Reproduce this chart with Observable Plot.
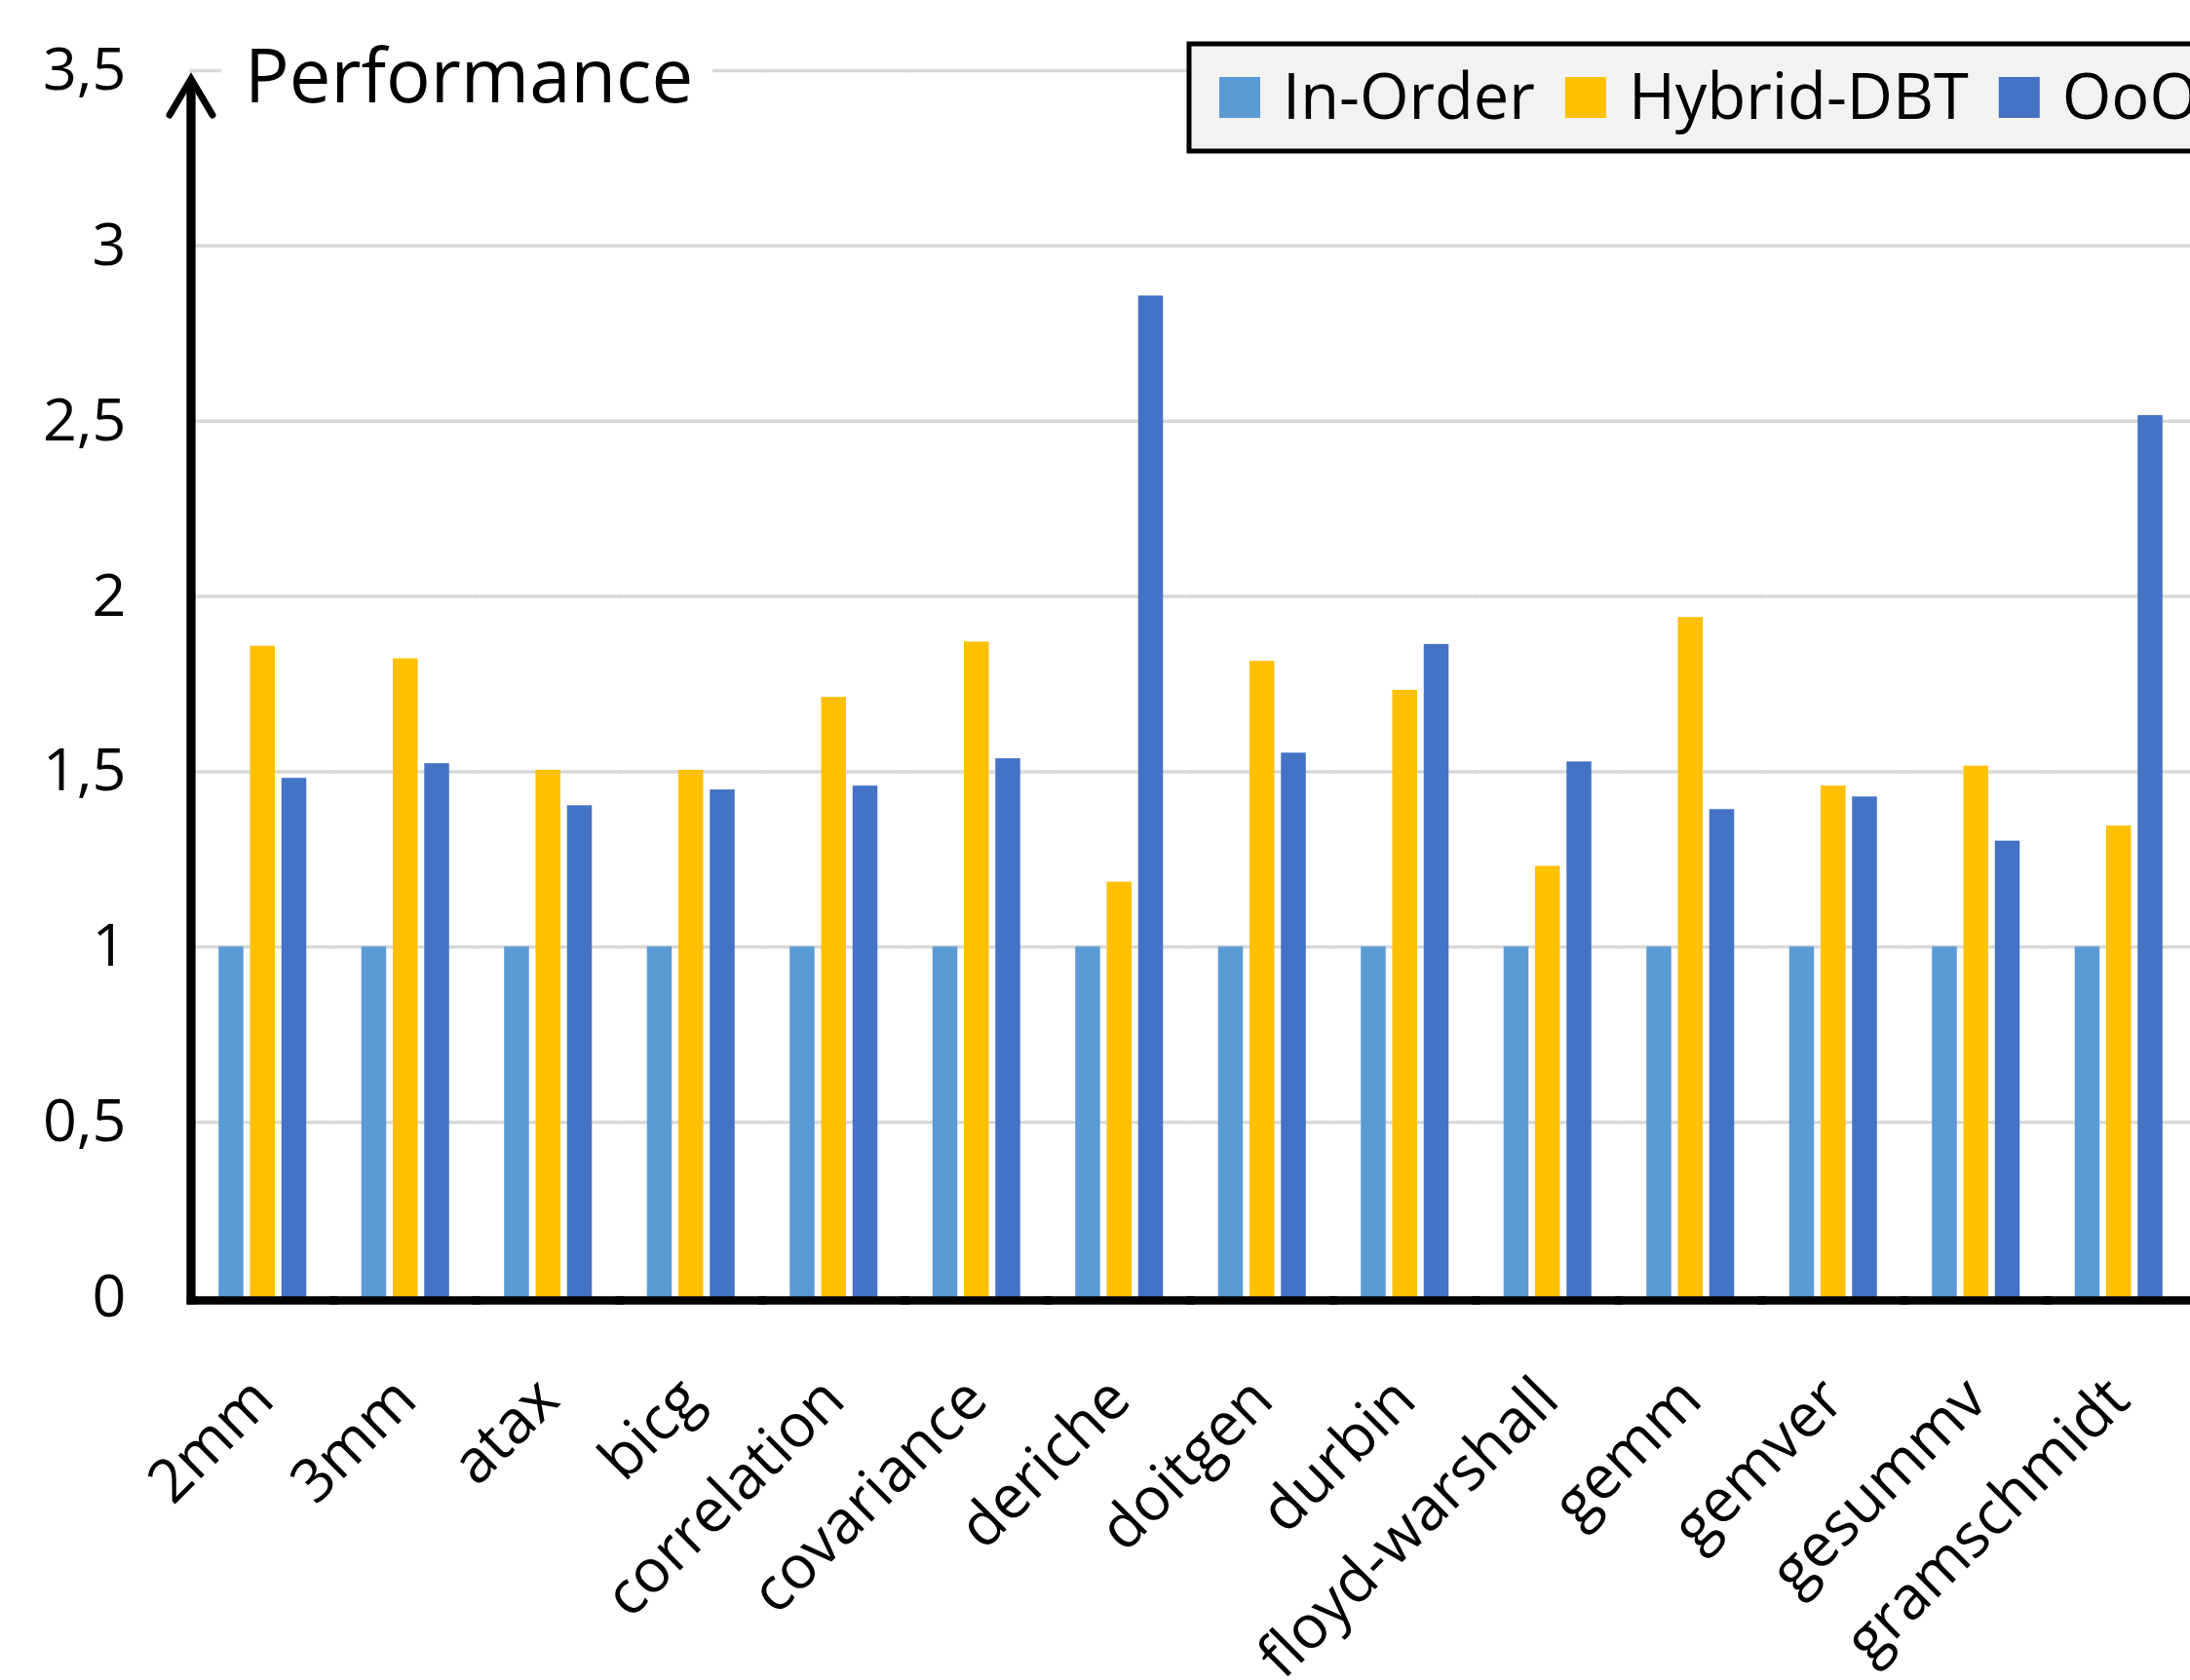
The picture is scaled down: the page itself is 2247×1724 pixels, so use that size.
<!DOCTYPE html>
<html><head><meta charset="utf-8">
<script src="https://cdn.jsdelivr.net/npm/d3@7"></script>
<script src="https://cdn.jsdelivr.net/npm/@observablehq/plot@0.6"></script>
<style>
html,body{margin:0;padding:0;background:#fff;overflow:hidden;}
#chart{position:relative;width:2247px;height:1724px;overflow:hidden;background:#fff;}
</style></head><body><div id="chart"></div>
<script>
// ---- data ----
const benchmarks = ["2mm","3mm","atax","bicg","correlation","covariance","deriche","doitgen","durbin","floyd-warshall","gemm","gemver","gesummv","gramschmidt"];
const seriesNames = ["In-Order","Hybrid-DBT","OoO"];
const inOrder   = [1,1,1,1,1,1,1,1,1,1,1,1,1,1];
const hybridDBT = [1.858,1.822,1.504,1.504,1.712,1.870,1.185,1.815,1.732,1.230,1.940,1.459,1.516,1.345];
const ooo       = [1.481,1.523,1.403,1.448,1.459,1.537,2.857,1.553,1.863,1.528,1.392,1.428,1.302,2.516];
const seriesColors = ["#5B9BD5","#FFC000","#4472C4"];
const yTicks = [0,0.5,1,1.5,2,2.5,3,3.5];
const yAxisTitle = "Performance";

const values = [inOrder, hybridDBT, ooo];
const data = benchmarks.flatMap((b, i) => seriesNames.map((s, k) => ({bench: b, series: s, value: values[k][i]})));

const W = 2247, H = 1724, mLeft = 196, mTop = 72, mBottom = 393;
const font = "'Open Sans', 'Noto Sans', sans-serif";

const plot = Plot.plot({
  width: W, height: H,
  marginTop: mTop, marginBottom: mBottom, marginLeft: mLeft, marginRight: 0,
  style: {fontFamily: font, background: "transparent", overflow: "visible", color: "black"},
  fx: {domain: benchmarks, paddingInner: 0, paddingOuter: 0, round: false, axis: null, label: null},
  x: {domain: seriesNames, paddingInner: 0.21, paddingOuter: 0.875, round: false, axis: null},
  y: {domain: [0, 3.5], axis: null},
  color: {domain: seriesNames, range: seriesColors},
  marks: [
    Plot.gridY(yTicks, {stroke: "#d9d9d9", strokeOpacity: 1, strokeWidth: 3.5, strokeLinecap: "square"}),
    Plot.barY(data, {fx: "bench", x: "series", y: "value", fill: "series"}),
    Plot.ruleY([0], {stroke: "black", strokeWidth: 8.5, dy: 3, strokeLinecap: "square"}),
    Plot.axisY({ticks: yTicks, tickFormat: d => String(d).replace(".", ","), tickSize: 0, tickPadding: 67, fontSize: 61, fill: "black", label: null}),
    Plot.text(benchmarks, {fx: d => d, text: d => d, frameAnchor: "bottom", rotate: -45, textAnchor: "end", lineAnchor: "bottom", dx: 14, dy: 108, fontSize: 62, fill: "black"})
  ]
});
document.getElementById("chart").appendChild(plot);

// ---- decorations: axis arrow, title, legend ----
const svg = d3.select(plot);
const ys = plot.scale("y");
const yTop = ys.apply(3.5), yBot = ys.apply(0);
const deco = svg.append("g").attr("text-anchor", "start");
deco.append("line").attr("x1", mLeft).attr("x2", mLeft).attr("y1", yBot + 7.5).attr("y2", yTop + 12)
  .attr("stroke", "black").attr("stroke-width", 9.3);
deco.append("polyline")
  .attr("points", `${mLeft - 22},${yTop + 46} ${mLeft},${yTop + 9} ${mLeft + 22},${yTop + 46}`)
  .attr("fill", "none").attr("stroke", "black").attr("stroke-width", 7)
  .attr("stroke-linecap", "round").attr("stroke-linejoin", "miter").attr("stroke-miterlimit", 10);

// title with white background over the top gridline
deco.append("rect").attr("x", 227).attr("y", yTop - 12).attr("width", 504).attr("height", 24).attr("fill", "white");
deco.append("text").attr("x", 251).attr("y", 105).attr("font-size", 76).attr("font-family", font)
  .attr("text-anchor", "start").attr("fill", "black").text(yAxisTitle);

// legend box
const lg = svg.append("g").attr("text-anchor", "start");
lg.append("rect").attr("x", 1220).attr("y", 45).attr("width", W - 1220 + 40).attr("height", 110)
  .attr("fill", "#f2f2f2").attr("stroke", "black").attr("stroke-width", 5);
let lx = 1251;
seriesNames.forEach((s, k) => {
  lg.append("rect").attr("x", lx).attr("y", 79).attr("width", 42).attr("height", 42).attr("fill", seriesColors[k]);
  lx += 42 + 23;
  const t = lg.append("text").attr("x", lx).attr("y", 122).attr("font-size", 65).attr("font-family", font)
    .attr("text-anchor", "start").attr("fill", "black").text(s);
  lx += t.node().getComputedTextLength() + 31;
});
</script></body></html>
